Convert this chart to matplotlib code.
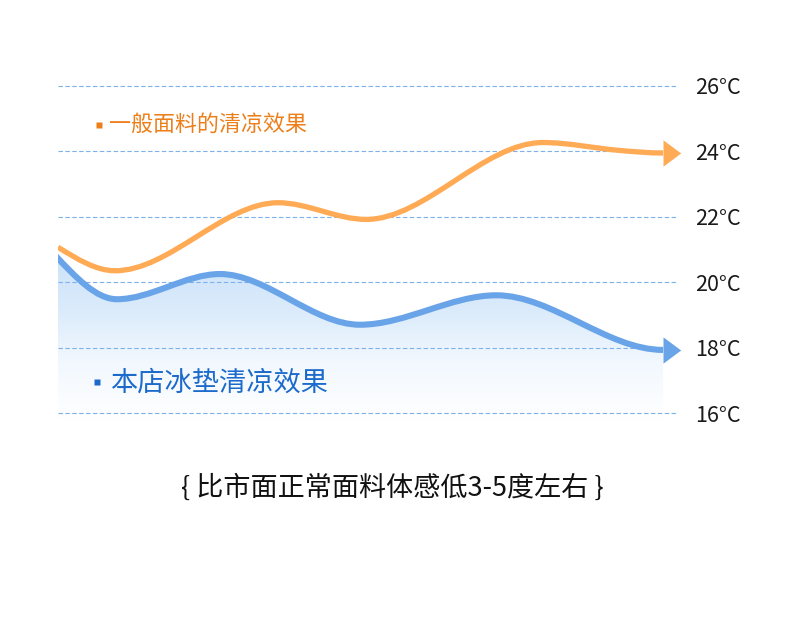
import numpy as np
import matplotlib
matplotlib.use("Agg")
import matplotlib.pyplot as plt
from matplotlib.path import Path
from matplotlib.patches import PathPatch
from matplotlib.colors import LinearSegmentedColormap

plt.rcParams['font.family'] = ['Noto Sans CJK SC', 'DejaVu Sans']

# ---- data ----
normal_x = [0.0, 9.2, 35.5, 49.7, 78.2, 90.5, 97.6]
normal_y = [21.07, 20.35, 22.43, 21.92, 24.27, 24.03, 23.95]
ours_x = [-0.5, 9.5, 26.1, 48.7, 70.7, 97.6]
ours_y = [20.83, 19.48, 20.25, 18.70, 19.60, 17.93]
yticks = [16, 18, 20, 22, 24, 26]
ytick_labels = ["16°C", "18°C", "20°C", "22°C", "24°C", "26°C"]
normal_label = "一般面料的清凉效果"
ours_label = "本店冰垫清凉效果"
caption = "{ 比市面正常面料体感低3-5度左右 }"

ORANGE = "#FFAA55"
BLUE = "#6AA4E8"
ORANGE_TXT = "#EC7F1A"
BLUE_TXT = "#1C6BCB"
GRID = "#7DB1EC"

W, H = 790, 626
fig = plt.figure(figsize=(W / 100, H / 100), dpi=100)
ax_l, ax_r = 58, 678
ax_top, ax_bot = 69.6, 429.4
ax = fig.add_axes([ax_l / W, 1 - ax_bot / H, (ax_r - ax_l) / W, (ax_bot - ax_top) / H])
ax.set_xlim(0, 100)
ax.set_ylim(15.5, 26.5)
for s in ax.spines.values():
    s.set_visible(False)
ax.set_xticks([])


def smooth_path(xs, ys):
    xs = np.asarray(xs, float)
    ys = np.asarray(ys, float)
    n = len(xs)
    m = np.zeros(n)
    for i in range(1, n - 1):
        a = ys[i] - ys[i - 1]
        b = ys[i + 1] - ys[i]
        if a * b <= 0:
            m[i] = 0.0
        else:
            m[i] = (ys[i + 1] - ys[i - 1]) / (xs[i + 1] - xs[i - 1])
    m[0] = 1.5 * (ys[1] - ys[0]) / (xs[1] - xs[0])
    m[-1] = 0.0
    verts = [(xs[0], ys[0])]
    codes = [Path.MOVETO]
    for i in range(n - 1):
        dx = xs[i + 1] - xs[i]
        verts += [(xs[i] + dx / 3, ys[i] + m[i] * dx / 3),
                  (xs[i + 1] - dx / 3, ys[i + 1] - m[i + 1] * dx / 3),
                  (xs[i + 1], ys[i + 1])]
        codes += [Path.CURVE4] * 3
    return verts, codes


# gridlines
for t in yticks:
    ax.axhline(t, color=GRID, lw=0.8, ls=(0, (4, 2.2)), zorder=1)

ax.yaxis.tick_right()
ax.set_yticks(yticks)
ax.set_yticklabels(ytick_labels, fontsize=15.5, color="#1a1a1a")
ax.tick_params(axis='y', length=0, pad=12.0)

# blue gradient fill
bv, bc = smooth_path(ours_x, ours_y)
fill_verts = bv + [(ours_x[-1], 15.5), (ours_x[0], 15.5), bv[0]]
fill_codes = bc + [Path.LINETO, Path.LINETO, Path.CLOSEPOLY]
clip = PathPatch(Path(fill_verts, fill_codes), facecolor='none', edgecolor='none')
ax.add_patch(clip)
cmap = LinearSegmentedColormap.from_list("g", ["#FFFFFF", "#F2F8FE", "#D9EAFB", "#CCE2F9"])
grad = np.linspace(0, 1, 256).reshape(-1, 1)
im = ax.imshow(grad, extent=[ours_x[0], ours_x[-1], 15.8, 21.0], origin='lower',
               aspect='auto', cmap=cmap, zorder=0.5, interpolation='bilinear')
im.set_clip_path(clip)

# curves
ov, oc = smooth_path(normal_x, normal_y)
ax.add_patch(PathPatch(Path(ov, oc), facecolor='none', edgecolor=ORANGE, lw=3.8,
                       capstyle='butt', zorder=3))
ax.add_patch(PathPatch(Path(bv, bc), facecolor='none', edgecolor=BLUE, lw=4.4,
                       capstyle='butt', zorder=3))

arrow = [(0, -13), (17.5, 0), (0, 13), (0, -13)]
ax.plot([normal_x[-1]], [normal_y[-1]], marker=arrow, markersize=25.5, color=ORANGE,
        mec='none', zorder=4, clip_on=False)
ax.plot([ours_x[-1]], [ours_y[-1]], marker=arrow, markersize=25.5, color=BLUE,
        mec='none', zorder=4, clip_on=False)


def axc(px, py):
    return (px - ax_l) / (ax_r - ax_l), (ax_bot - py) / (ax_bot - ax_top)


# legend texts
x0, y0 = axc(99, 125)
ax.plot([x0], [y0], marker='s', markersize=3.8, color=ORANGE_TXT, transform=ax.transAxes,
        clip_on=False, mec='none')
x1, y1 = axc(109, 125)
ax.text(x1, y1, normal_label, transform=ax.transAxes, fontsize=15.8, color=ORANGE_TXT,
        ha='left', va='center')

x0, y0 = axc(97, 382)
ax.plot([x0], [y0], marker='s', markersize=5.0, color=BLUE_TXT, transform=ax.transAxes,
        clip_on=False, mec='none')
x1, y1 = axc(111, 383)
ax.text(x1, y1, ours_label, transform=ax.transAxes, fontsize=19.6, color=BLUE_TXT,
        ha='left', va='center')

fig.text(392 / W, 1 - 488 / H, caption, fontsize=19.5, color="#111111",
         ha='center', va='center')

fig.savefig("out.png", dpi=100, facecolor="white")
